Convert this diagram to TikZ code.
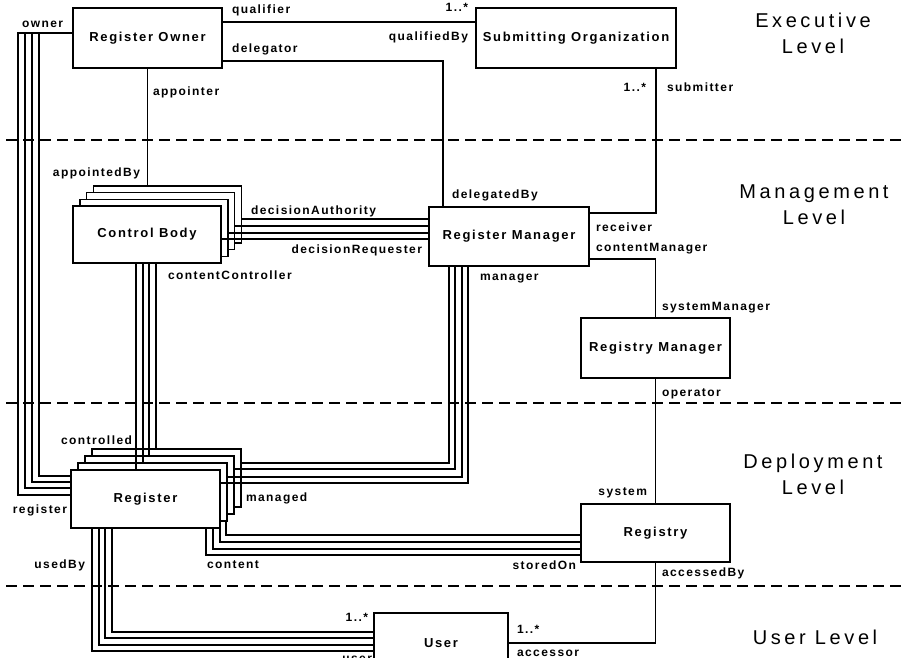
\documentclass[tikz,border=0pt]{standalone}
\usepackage{fontspec}
\setmainfont{Liberation Sans}
\newfontfamily\labfont[LetterSpace=12]{Liberation Sans}
\newfontfamily\titlefont[LetterSpace=13]{Liberation Sans}
\newfontfamily\levelfont[LetterSpace=18]{Liberation Sans}

\tikzset{
  box/.style={draw, line width=1.4pt, fill=white, inner sep=0pt, outer sep=0pt,
    font=\titlefont\bfseries\fontsize{13}{15}\selectfont},
  lab/.style={inner sep=0pt, outer sep=0pt, text height=8.5pt, text depth=2.5pt,
    font=\labfont\bfseries\fontsize{12}{14}\selectfont},
  conn/.style={line width=1.3pt},
  levellabel/.style={align=center, inner sep=0pt, font=\levelfont\fontsize{20}{26}\selectfont},
  separator/.style={dash pattern=on 11pt off 6pt, line width=1.4pt},
}

\begin{document}
\begin{tikzpicture}[x=1pt,y=-1pt]
\useasboundingbox (0,0) rectangle (902,658);
\clip (0,0) rectangle (902,658);

% level separators
\foreach \y in {140,403,586} \draw[separator] (6,\y) -- (902,\y);

% level names
\node[levellabel] (lvexec) at (813,33) {Executive\\Level};
\node[levellabel] (lvmgmt) at (814,205) {Management\\Level};
\node[levellabel] (lvdepl) at (813,474) {Deployment\\Level};
\node[levellabel] (lvuser) at (815,637) {User Level};

% single classes
\node[box, minimum width=149pt, minimum height=60pt] (ro)  at (147.5,38)  {Register Owner};
\node[box, minimum width=200pt, minimum height=60pt] (so)  at (576,38)    {Submitting Organization};
\node[box, minimum width=160pt, minimum height=59pt] (rm)  at (509,236.5) {Register Manager};
\node[box, minimum width=149pt, minimum height=60pt] (rym) at (655.5,348) {Registry Manager};
\node[box, minimum width=149pt, minimum height=58pt] (ry)  at (655.5,533) {Registry};
\node[box, minimum width=134pt, minimum height=60pt] (us)  at (441,643)   {User};

% stacked classes (multiple instances)
\foreach \k in {3,2,1}
  \node[box, minimum width=148pt, minimum height=57pt] (cb\k) at ({147+6.8*\k},{234.5-6.7*\k}) {};
\node[box, minimum width=148pt, minimum height=57pt] (cb0) at (147,234.5) {Control Body};
\foreach \k in {3,2,1}
  \node[box, minimum width=149pt, minimum height=58pt] (rg\k) at ({145.5+7*\k},{499-7*\k}) {};
\node[box, minimum width=149pt, minimum height=58pt] (rg0) at (145.5,499) {Register};

% associations
\draw[conn] (ro.east |- 0,22) -- (so.west |- 0,22);
\draw[conn] (ro.east |- 0,61) -| (rm.north -| 443,0);
\draw[conn] (so.south -| 656,0) |- (rm.east |- 0,213);
\draw[conn] (rm.east |- 0,259) -| (rym.north);
\draw[conn] (rym.south) -- (ry.north);
\draw[conn] (ry.south) |- (us.east);
\draw[conn] (ro.south) -- (ro.south |- cb3.north);

\foreach \k/\y in {0/239,1/233,2/226,3/219}
  \draw[conn] (cb\k.east |- 0,\y) -- (rm.west |- 0,\y);
\foreach \k/\x in {0/136,1/143,2/149,3/156}
  \draw[conn] (cb0.south -| \x,0) -- (rg\k.north -| \x,0);
\foreach \k/\x/\y in {0/468/483,1/462/477,2/455/469,3/449/463}
  \draw[conn] (rm.south -| \x,0) |- (rg\k.east |- 0,\y);
\foreach \s/\x/\y in {0/206/555,0/213/549,0/220/542,1/226/535}
  \draw[conn] (rg\s.south -| \x,0) |- (ry.west |- 0,\y);
\foreach \x/\y in {92/651,99/645,105/638,112/632}
  \draw[conn] (rg0.south -| \x,0) |- (us.west |- 0,\y);
\foreach \x/\y in {18/495,25/488,32/482,39/476}
  \draw[conn] (ro.west |- 0,33) -| (\x,\y) -- (rg0.west |- 0,\y);

% role names and multiplicities
\node[lab, anchor=west] (t-owner)     at (22,25)   {owner};
\node[lab, anchor=west] (t-qualifier) at (232,11)  {qualifier};
\node[lab, anchor=west] (t-delegator) at (232,50)  {delegator};
\node[lab, anchor=east] (t-m1)        at (468,9)   {1..*};
\node[lab, anchor=east] (t-qualby)    at (468,38)  {qualifiedBy};
\node[lab, anchor=west] (t-appointer) at (153,93)  {appointer};
\node[lab, anchor=east] (t-m2)        at (646,89)  {1..*};
\node[lab, anchor=west] (t-submitter) at (667,89)  {submitter};
\node[lab, anchor=east] (t-apptby)    at (140,173) {appointedBy};
\node[lab, anchor=west] (t-delby)     at (452,195) {delegatedBy};
\node[lab, anchor=west] (t-decauth)   at (251,211) {decisionAuthority};
\node[lab, anchor=east] (t-decreq)    at (422,250) {decisionRequester};
\node[lab, anchor=west] (t-receiver)  at (596,228) {receiver};
\node[lab, anchor=west] (t-contmgr)   at (596,248) {contentManager};
\node[lab, anchor=west] (t-contctl)   at (168,276) {contentController};
\node[lab, anchor=west] (t-manager)   at (480,277) {manager};
\node[lab, anchor=west] (t-sysmgr)    at (662,307) {systemManager};
\node[lab, anchor=west] (t-operator)  at (662,393) {operator};
\node[lab, anchor=east] (t-controlled) at (132,441) {controlled};
\node[lab, anchor=west] (t-managed)   at (246,498) {managed};
\node[lab, anchor=east] (t-system)    at (647,492) {system};
\node[lab, anchor=east] (t-register)  at (67,510)  {register};
\node[lab, anchor=east] (t-usedby)    at (85,565)  {usedBy};
\node[lab, anchor=west] (t-content)   at (207,565) {content};
\node[lab, anchor=east] (t-storedon)  at (576,566) {storedOn};
\node[lab, anchor=west] (t-accby)     at (662,573) {accessedBy};
\node[lab, anchor=east] (t-m3)        at (368,618) {1..*};
\node[lab, anchor=west] (t-m4)        at (517,630) {1..*};
\node[lab, anchor=west] (t-accessor)  at (517,653) {accessor};
\node[lab, anchor=east] (t-user)      at (372,659) {user};
\end{tikzpicture}
\end{document}
